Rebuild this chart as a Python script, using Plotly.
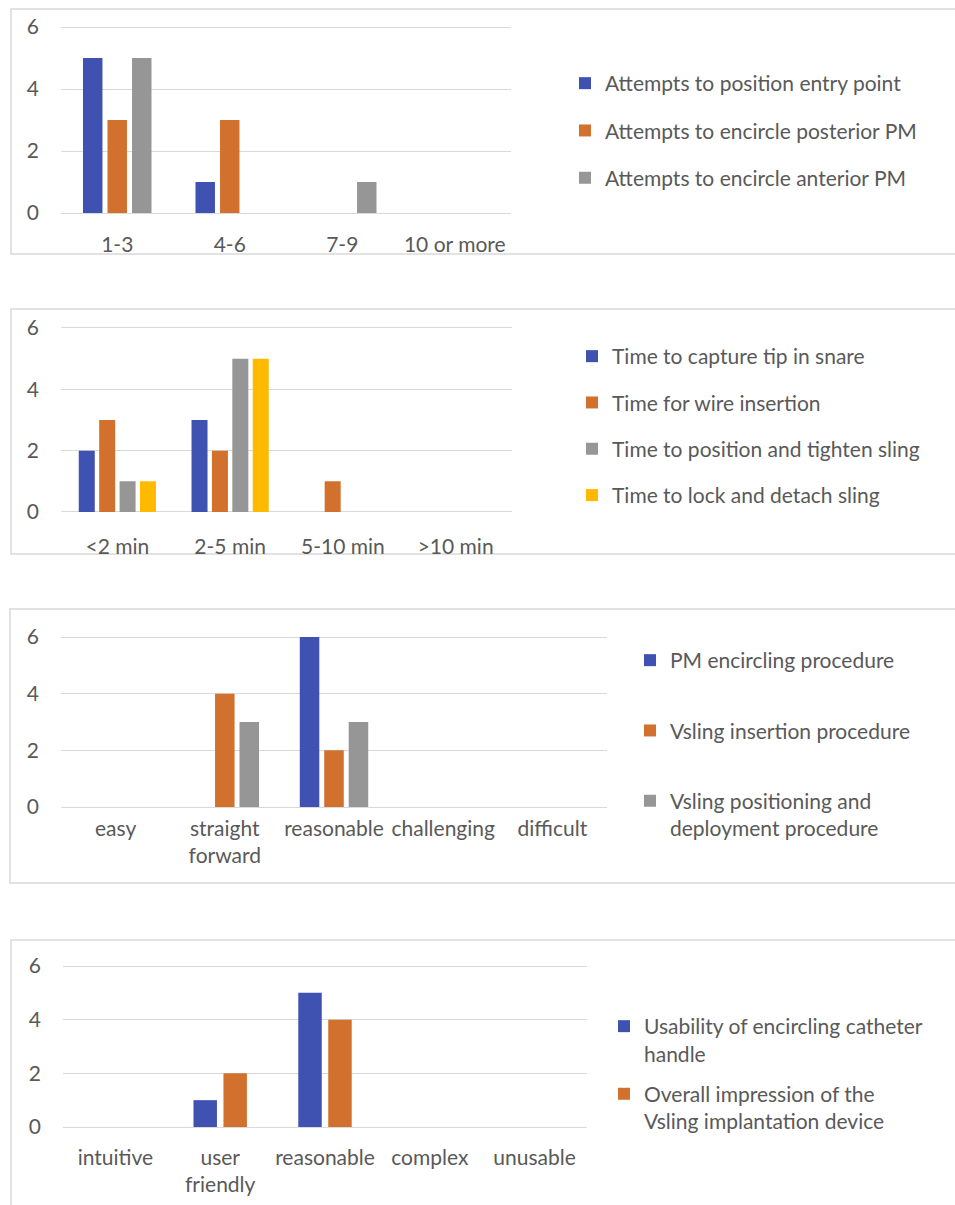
import plotly.graph_objects as go

W, H = 955, 1205

# ---------------- data ----------------
p1_categories = ["1-3", "4-6", "7-9", "10 or more"]
p1_entry_point = [5, 1, 0, 0]
p1_posterior_pm = [3, 3, 0, 0]
p1_anterior_pm = [5, 0, 1, 0]

p2_categories = ["<2 min", "2-5 min", "5-10 min", ">10 min"]
p2_capture_tip = [2, 3, 0, 0]
p2_wire_insertion = [3, 2, 1, 0]
p2_position_tighten = [1, 5, 0, 0]
p2_lock_detach = [1, 5, 0, 0]

p3_categories = ["easy", "straight<br>forward", "reasonable", "challenging", "difficult"]
p3_pm_encircling = [0, 0, 6, 0, 0]
p3_vsling_insertion = [0, 4, 2, 0, 0]
p3_vsling_positioning = [0, 3, 3, 0, 0]

p4_categories = ["intuitive", "user<br>friendly", "reasonable", "complex", "unusable"]
p4_catheter_handle = [0, 1, 5, 0, 0]
p4_overall_impression = [0, 2, 4, 0, 0]

y_ticks = [0, 2, 4, 6]
y_max = 6
y_headroom = 0.08  # keeps the top gridline inside the plot area

# ---------------- style ----------------
BLUE = "#3F51B1"
ORANGE = "#D2712E"
GRAY = "#969696"
YELLOW = "#FFBA00"
TEXT = "#595959"
GRID = "#D9D9D9"
FONT = "Lato"
FS = 21

panels = [
    dict(
        cats=p1_categories,
        series=[("Attempts to position entry point", p1_entry_point, BLUE),
                ("Attempts to encircle posterior PM", p1_posterior_pm, ORANGE),
                ("Attempts to encircle anterior PM", p1_anterior_pm, GRAY)],
        xpx=(61, 511), ypx=(27, 213), bar=0.173, slot=0.218, standoff=17,
        box=(11, 9, 254), leg=(565, 63), leggap=17,
    ),
    dict(
        cats=p2_categories,
        series=[("Time to capture tip in snare", p2_capture_tip, BLUE),
                ("Time for wire insertion", p2_wire_insertion, ORANGE),
                ("Time to position and tighten sling", p2_position_tighten, GRAY),
                ("Time to lock and detach sling", p2_lock_detach, YELLOW)],
        xpx=(61, 512), ypx=(328, 512), bar=0.142, slot=0.181, standoff=20,
        box=(11, 309, 554), leg=(572, 336), leggap=16,
    ),
    dict(
        cats=p3_categories,
        series=[("PM encircling procedure", p3_pm_encircling, BLUE),
                ("Vsling insertion procedure", p3_vsling_insertion, ORANGE),
                ("Vsling positioning and<br>deployment procedure", p3_vsling_positioning, GRAY)],
        xpx=(61, 607), ypx=(637, 807), bar=0.179, slot=0.224, standoff=7,
        box=(10, 609, 883), leg=(630, 640), leggap=40,
    ),
    dict(
        cats=p4_categories,
        series=[("Usability of encircling catheter<br>handle", p4_catheter_handle, BLUE),
                ("Overall impression of the<br>Vsling implantation device", p4_overall_impression, ORANGE)],
        xpx=(63, 587), ypx=(966, 1127), bar=0.224, slot=0.286, standoff=16,
        box=(11, 940, 1215), leg=(604, 1006), leggap=10,
    ),
]

fig = go.Figure()
layout = dict(
    width=W, height=H,
    margin=dict(l=0, r=0, t=0, b=0, autoexpand=False),
    paper_bgcolor="white", plot_bgcolor="white",
    barmode="group",
    font=dict(family=FONT, size=FS, color=TEXT),
    shapes=[],
)

for i, p in enumerate(panels, start=1):
    sfx = "" if i == 1 else str(i)
    xa, ya = "x" + sfx, "y" + sfx
    leg = "legend" + sfx
    n = len(p["series"])
    for j, (name, vals, color) in enumerate(p["series"]):
        off = (j - (n - 1) / 2) * p["slot"] - p["bar"] / 2
        fig.add_trace(go.Bar(
            x=p["cats"], y=vals, name=name,
            xaxis=xa, yaxis=ya, legend=leg, legendgroup=f"g{i}_{j}",
            marker=dict(color=color, line=dict(width=0)),
            width=p["bar"], offset=off,
        ))
    x0, x1 = p["xpx"]
    yt, yb = p["ypx"]
    px_per_unit = (yb - yt) / y_max
    ytop = yt - y_headroom * px_per_unit
    layout["xaxis" + sfx] = dict(
        domain=[x0 / W, x1 / W], anchor=ya, type="category",
        categoryorder="array", categoryarray=p["cats"],
        showgrid=False, showline=False, zeroline=False, ticks="",
        ticklabelstandoff=p["standoff"],
        tickfont=dict(family=FONT, size=FS, color=TEXT), fixedrange=True,
    )
    layout["yaxis" + sfx] = dict(
        domain=[1 - yb / H, 1 - ytop / H], anchor=xa,
        range=[0, y_max + y_headroom], tickvals=y_ticks, ticks="",
        showgrid=True, gridcolor=GRID, gridwidth=1.3,
        zeroline=True, zerolinecolor=GRID, zerolinewidth=1.3,
        showline=False, ticklabelstandoff=21,
        tickfont=dict(family=FONT, size=FS, color=TEXT), fixedrange=True,
    )
    lx, ly = p["leg"]
    layout[leg] = dict(
        x=lx / W, y=1 - ly / H, xanchor="left", yanchor="top",
        traceorder="grouped", tracegroupgap=p["leggap"], valign="top",
        font=dict(family=FONT, size=FS, color=TEXT),
        bgcolor="rgba(0,0,0,0)", borderwidth=0,
    )
    bx, btop, bbot = p["box"]
    layout["shapes"].append(dict(
        type="rect", xref="paper", yref="paper",
        x0=bx / W, x1=1.02, y0=1 - bbot / H, y1=1 - btop / H,
        line=dict(color=GRID, width=1.5), fillcolor="rgba(0,0,0,0)", layer="below",
    ))

fig.update_layout(**layout)
fig.write_html("out.html")
